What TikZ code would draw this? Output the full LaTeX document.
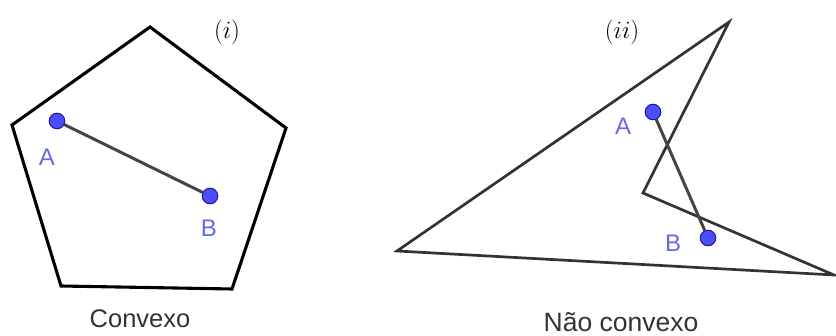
\documentclass[tikz,border=0pt]{standalone}
\usepackage{fontspec}
\setsansfont{Liberation Sans}
\usetikzlibrary{positioning}
\definecolor{ptFill}{HTML}{4D4DFF}
\definecolor{ptDraw}{HTML}{1A1A8C}
\definecolor{ptText}{HTML}{6868E8}
\definecolor{segGray}{HTML}{444444}
\definecolor{polyGray}{HTML}{333333}
\tikzset{
  point/.style={circle, fill=ptFill, draw=ptDraw, line width=0.8pt,
                inner sep=0pt, minimum size=15.5pt},
  ptLabel/.style={font=\fontsize{24}{28}\selectfont\sffamily, text=ptText},
  caption/.style={font=\fontsize{25.5}{30}\selectfont\sffamily, text=black!80,
                  anchor=base, inner sep=0pt},
  tag/.style={font=\fontsize{27}{30}\selectfont},
  segment/.style={draw=segGray, line width=3pt},
  convexPoly/.style={draw=black, line width=3.1pt, line join=miter},
  nonconvexPoly/.style={draw=polyGray, line width=2.7pt, line join=miter}
}
\begin{document}
\begin{tikzpicture}[x=1pt, y=-1pt]
\useasboundingbox (0,0) rectangle (836,336);

% ------------------------------------------------------------
% (i) CONVEX PENTAGON
% ------------------------------------------------------------
\coordinate (p1) at (150,27);
\coordinate (p2) at (286,128);
\coordinate (p3) at (232,289);
\coordinate (p4) at (61,286);
\coordinate (p5) at (12,125);
\draw[convexPoly] (p1) -- (p2) -- (p3) -- (p4) -- (p5) -- cycle;

\node[tag] (tagI) at (227,32) {$(i)$};

\node[point] (convA) at (57,121) {};
\node[point] (convB) at (210,196) {};
\draw[segment] (convA) -- (convB);
\node[point] at (convA) {};
\node[point] at (convB) {};
\node[ptLabel] (labA1) at (47,157) {A};
\node[ptLabel] (labB1) at (209,228) {B};

\node[caption] (capI) at (140,328) {Convexo};

% ------------------------------------------------------------
% (ii) NON-CONVEX QUADRILATERAL
% ------------------------------------------------------------
\coordinate (q1) at (397,251);
\coordinate (q2) at (729,22);
\coordinate (q3) at (643,193);
\coordinate (q4) at (834,275);
\draw[nonconvexPoly] (q1) -- (q2) -- (q3) -- (q4) -- cycle;

\node[tag] (tagII) at (622,32) {$(ii)$};

\node[point] (ncA) at (653,112) {};
\node[point] (ncB) at (708,238) {};
\draw[segment] (ncA) -- (ncB);
\node[point] at (ncA) {};
\node[point] at (ncB) {};
\node[ptLabel] (labA2) at (623,126) {A};
\node[ptLabel] (labB2) at (673,243) {B};

\node[caption, font=\fontsize{26.5}{30}\selectfont\sffamily] (capII) at (621,332) {Não convexo};

\end{tikzpicture}
\end{document}
